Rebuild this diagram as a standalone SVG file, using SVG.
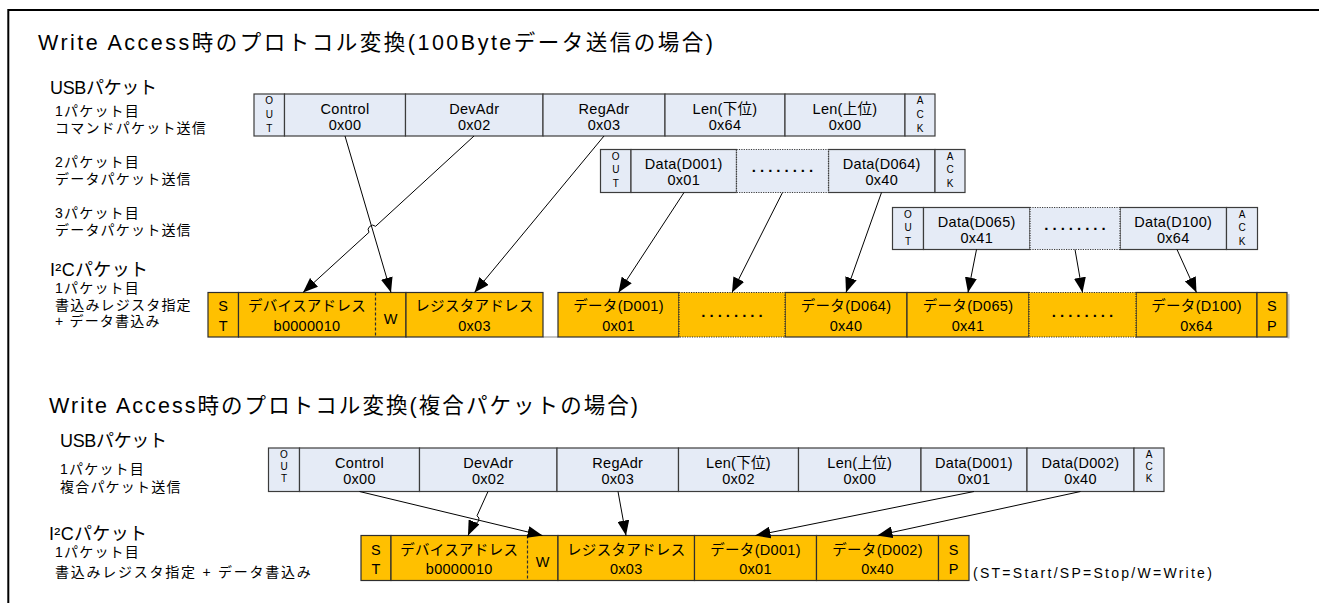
<svg xmlns="http://www.w3.org/2000/svg" width="1319" height="603" viewBox="0 0 1319 603">
<defs>
<marker id="arr" viewBox="0 0 15 12" refX="15" refY="6" markerWidth="15" markerHeight="12" markerUnits="userSpaceOnUse" orient="auto"><path d="M0,0 L15,6 L0,12 z" fill="#000"/></marker>
<style>
text{font-family:"Liberation Sans","Noto Sans CJK JP",sans-serif;fill:#000}
.usb{fill:#E5EBF6;stroke:#3c3c3c;stroke-width:1.2}
.i2c{fill:#FFC000;stroke:#2e2e2e;stroke-width:1.2}
.dot{stroke-dasharray:1.2 1.2}
.dash{stroke:#2e2e2e;stroke-width:1.2;stroke-dasharray:3 2}
.t{font-size:14.5px;text-anchor:middle;letter-spacing:0.3px}
.s{font-size:10px;text-anchor:middle}
.d{font-size:15px;font-weight:bold;text-anchor:middle;letter-spacing:4px}
.ttl{font-size:21.5px}
.hd{font-size:18px}
.lb{font-size:14px;letter-spacing:1.2px}
.conn path{stroke:#000;stroke-width:1;fill:none;marker-end:url(#arr)}
.shadow{stroke:#c4c4c4;stroke-width:2;fill:none}
</style>
</defs>
<rect width="1319" height="603" fill="#fff"/>
<path d="M8.3,603 V10 H1319" fill="none" stroke="#000" stroke-width="2"/>

<g id="labels">
<text class="ttl" x="38" y="50" textLength="675" lengthAdjust="spacing">Write Access時のプロトコル変換(100Byteデータ送信の場合)</text>
<text class="hd" x="50" y="94" textLength="107" lengthAdjust="spacing">USBパケット</text>
<text class="lb" x="55" y="116">1パケット目</text>
<text class="lb" x="55" y="133">コマンドパケット送信</text>
<text class="lb" x="55" y="167">2パケット目</text>
<text class="lb" x="55" y="184">データパケット送信</text>
<text class="lb" x="55" y="218">3パケット目</text>
<text class="lb" x="55" y="235">データパケット送信</text>
<text class="hd" x="50" y="276" textLength="98" lengthAdjust="spacing">I²Cパケット</text>
<text class="lb" x="55" y="293">1パケット目</text>
<text class="lb" x="55" y="310">書込みレジスタ指定</text>
<text class="lb" x="55" y="326">+ データ書込み</text>
<text class="ttl" x="49" y="413" textLength="589" lengthAdjust="spacing">Write Access時のプロトコル変換(複合パケットの場合)</text>
<text class="hd" x="60" y="447" textLength="107" lengthAdjust="spacing">USBパケット</text>
<text class="lb" x="60" y="474">1パケット目</text>
<text class="lb" x="60" y="492">複合パケット送信</text>
<text class="hd" x="49" y="540" textLength="98" lengthAdjust="spacing">I²Cパケット</text>
<text class="lb" x="55" y="557">1パケット目</text>
<text class="lb" x="55" y="577" textLength="257" lengthAdjust="spacing">書込みレジスタ指定 + データ書込み</text>
<text class="lb" x="973" y="578" textLength="240" lengthAdjust="spacing">(ST=Start/SP=Stop/W=Write)</text>
</g>

<!-- Section 1 USB packet 1 -->
<g id="s1-p1-out"><rect class="usb" x="254" y="94" width="30.5" height="42"/><text class="s" x="269.25" y="104">O</text><text class="s" x="269.25" y="117.5">U</text><text class="s" x="269.25" y="131.5">T</text></g>
<g id="s1-p1-control"><rect class="usb" x="284.5" y="94" width="121" height="42"/><text class="t" x="345" y="113.5">Control</text><text class="t" x="345" y="129.5">0x00</text></g>
<g id="s1-p1-devadr"><rect class="usb" x="405.5" y="94" width="137.5" height="42"/><text class="t" x="474.25" y="113.5">DevAdr</text><text class="t" x="474.25" y="129.5">0x02</text></g>
<g id="s1-p1-regadr"><rect class="usb" x="543" y="94" width="122" height="42"/><text class="t" x="604" y="113.5">RegAdr</text><text class="t" x="604" y="129.5">0x03</text></g>
<g id="s1-p1-lenl"><rect class="usb" x="665" y="94" width="120" height="42"/><text class="t" x="725" y="113.5">Len(下位)</text><text class="t" x="725" y="129.5">0x64</text></g>
<g id="s1-p1-lenh"><rect class="usb" x="785" y="94" width="120" height="42"/><text class="t" x="845" y="113.5">Len(上位)</text><text class="t" x="845" y="129.5">0x00</text></g>
<g id="s1-p1-ack"><rect class="usb" x="905" y="94" width="30" height="42"/><text class="s" x="920" y="104">A</text><text class="s" x="920" y="117.5">C</text><text class="s" x="920" y="131.5">K</text></g>

<!-- Section 1 USB packet 2 -->
<g id="s1-p2-out"><rect class="usb" x="600.5" y="149.5" width="30.5" height="43"/><text class="s" x="615.75" y="159.5">O</text><text class="s" x="615.75" y="173">U</text><text class="s" x="615.75" y="187">T</text></g>
<g id="s1-p2-d001"><rect class="usb" x="631" y="149.5" width="105.5" height="43"/><text class="t" x="683.75" y="169">Data(D001)</text><text class="t" x="683.75" y="185">0x01</text></g>
<g id="s1-p2-d064"><rect class="usb" x="828.5" y="149.5" width="106.5" height="43"/><text class="t" x="881.75" y="169">Data(D064)</text><text class="t" x="881.75" y="185">0x40</text></g>
<g id="s1-p2-dots"><rect class="usb dot" x="736.5" y="149.5" width="92" height="43"/><text class="d" x="784.5" y="172">........</text></g>
<g id="s1-p2-ack"><rect class="usb" x="935" y="149.5" width="30" height="43"/><text class="s" x="950" y="159.5">A</text><text class="s" x="950" y="173">C</text><text class="s" x="950" y="187">K</text></g>

<!-- Section 1 USB packet 3 -->
<g id="s1-p3-out"><rect class="usb" x="892.5" y="207.5" width="31" height="42"/><text class="s" x="908" y="217.5">O</text><text class="s" x="908" y="231">U</text><text class="s" x="908" y="245">T</text></g>
<g id="s1-p3-d065"><rect class="usb" x="923.5" y="207.5" width="106.5" height="42"/><text class="t" x="976.75" y="227">Data(D065)</text><text class="t" x="976.75" y="243">0x41</text></g>
<g id="s1-p3-d100"><rect class="usb" x="1120" y="207.5" width="106.5" height="42"/><text class="t" x="1173.25" y="227">Data(D100)</text><text class="t" x="1173.25" y="243">0x64</text></g>
<g id="s1-p3-dots"><rect class="usb dot" x="1030" y="207.5" width="90" height="42"/><text class="d" x="1077" y="230">........</text></g>
<g id="s1-p3-ack"><rect class="usb" x="1226.5" y="207.5" width="31" height="42"/><text class="s" x="1242" y="217.5">A</text><text class="s" x="1242" y="231">C</text><text class="s" x="1242" y="245">K</text></g>

<!-- Section 1 I2C packet -->
<path class="shadow" d="M543,337 H558 M1288.5,294 V338.5"/>
<g id="s1-i2c-st"><rect class="i2c" x="208" y="292.5" width="30.5" height="44.5"/><text class="t" x="223.25" y="311">S</text><text class="t" x="223.25" y="330.5">T</text></g>
<g id="s1-i2c-dev"><rect class="i2c" x="238.5" y="292.5" width="167.5" height="44.5"/><line class="dash" x1="375.5" y1="292.5" x2="375.5" y2="337"/><text class="t" x="307" y="311">デバイスアドレス</text><text class="t" x="307" y="330.5">b0000010</text><text class="t" x="390.75" y="323.5">W</text></g>
<g id="s1-i2c-reg"><rect class="i2c" x="406" y="292.5" width="137" height="44.5"/><text class="t" x="474.5" y="311">レジスタアドレス</text><text class="t" x="474.5" y="330.5">0x03</text></g>
<g id="s1-i2c-d001"><rect class="i2c" x="558" y="292.5" width="121" height="44.5"/><text class="t" x="618.5" y="311">データ(D001)</text><text class="t" x="618.5" y="330.5">0x01</text></g>
<g id="s1-i2c-d064"><rect class="i2c" x="785" y="292.5" width="122" height="44.5"/><text class="t" x="846" y="311">データ(D064)</text><text class="t" x="846" y="330.5">0x40</text></g>
<g id="s1-i2c-d065"><rect class="i2c" x="907" y="292.5" width="122" height="44.5"/><text class="t" x="968" y="311">データ(D065)</text><text class="t" x="968" y="330.5">0x41</text></g>
<g id="s1-i2c-d100"><rect class="i2c" x="1136" y="292.5" width="121" height="44.5"/><text class="t" x="1196.5" y="311">データ(D100)</text><text class="t" x="1196.5" y="330.5">0x64</text></g>
<g id="s1-i2c-dots1"><rect class="i2c dot" x="679" y="292.5" width="106" height="44.5"/><text class="d" x="734" y="316.5">........</text></g>
<g id="s1-i2c-dots2"><rect class="i2c dot" x="1029" y="292.5" width="107" height="44.5"/><text class="d" x="1084.5" y="316.5">........</text></g>
<g id="s1-i2c-sp"><rect class="i2c" x="1257" y="292.5" width="30" height="44.5"/><text class="t" x="1272" y="311">S</text><text class="t" x="1272" y="330.5">P</text></g>

<!-- Section 2 USB packet -->
<g id="s2-usb-out"><rect class="usb" x="268.5" y="448" width="31" height="43.5"/><text class="s" x="284" y="458">O</text><text class="s" x="284" y="470">U</text><text class="s" x="284" y="482">T</text></g>
<g id="s2-usb-control"><rect class="usb" x="299.5" y="448" width="120" height="43.5"/><text class="t" x="359.5" y="467.5">Control</text><text class="t" x="359.5" y="483.5">0x00</text></g>
<g id="s2-usb-devadr"><rect class="usb" x="419.5" y="448" width="137.5" height="43.5"/><text class="t" x="488.25" y="467.5">DevAdr</text><text class="t" x="488.25" y="483.5">0x02</text></g>
<g id="s2-usb-regadr"><rect class="usb" x="557" y="448" width="121.5" height="43.5"/><text class="t" x="617.75" y="467.5">RegAdr</text><text class="t" x="617.75" y="483.5">0x03</text></g>
<g id="s2-usb-lenl"><rect class="usb" x="678.5" y="448" width="120" height="43.5"/><text class="t" x="738.5" y="467.5">Len(下位)</text><text class="t" x="738.5" y="483.5">0x02</text></g>
<g id="s2-usb-lenh"><rect class="usb" x="798.5" y="448" width="122.5" height="43.5"/><text class="t" x="859.75" y="467.5">Len(上位)</text><text class="t" x="859.75" y="483.5">0x00</text></g>
<g id="s2-usb-d001"><rect class="usb" x="921" y="448" width="106" height="43.5"/><text class="t" x="974" y="467.5">Data(D001)</text><text class="t" x="974" y="483.5">0x01</text></g>
<g id="s2-usb-d002"><rect class="usb" x="1027" y="448" width="107" height="43.5"/><text class="t" x="1080.5" y="467.5">Data(D002)</text><text class="t" x="1080.5" y="483.5">0x40</text></g>
<g id="s2-usb-ack"><rect class="usb" x="1134" y="448" width="30" height="43.5"/><text class="s" x="1149" y="458">A</text><text class="s" x="1149" y="470">C</text><text class="s" x="1149" y="482">K</text></g>

<!-- Section 2 I2C packet -->
<g id="s2-i2c-st"><rect class="i2c" x="361" y="535.5" width="30" height="45"/><text class="t" x="376" y="554.5">S</text><text class="t" x="376" y="574">T</text></g>
<g id="s2-i2c-dev"><rect class="i2c" x="391" y="535.5" width="167" height="45"/><line class="dash" x1="527.5" y1="535.5" x2="527.5" y2="580.5"/><text class="t" x="459.25" y="554.5">デバイスアドレス</text><text class="t" x="459.25" y="574">b0000010</text><text class="t" x="542.75" y="567">W</text></g>
<g id="s2-i2c-reg"><rect class="i2c" x="558" y="535.5" width="136.5" height="45"/><text class="t" x="626.25" y="554.5">レジスタアドレス</text><text class="t" x="626.25" y="574">0x03</text></g>
<g id="s2-i2c-d001"><rect class="i2c" x="694.5" y="535.5" width="122" height="45"/><text class="t" x="755.5" y="554.5">データ(D001)</text><text class="t" x="755.5" y="574">0x01</text></g>
<g id="s2-i2c-d002"><rect class="i2c" x="816.5" y="535.5" width="122" height="45"/><text class="t" x="877.5" y="554.5">データ(D002)</text><text class="t" x="877.5" y="574">0x40</text></g>
<g id="s2-i2c-sp"><rect class="i2c" x="938.5" y="535.5" width="30.5" height="45"/><text class="t" x="953.75" y="554.5">S</text><text class="t" x="953.75" y="574">P</text></g>

<g id="connectors" class="conn">
<path d="M345,136 L391,292.5"/>
<path d="M474,136 L375.6,226.3 A4.5,4.5 0 0 0 369,232.3 L303,292.5"/>
<path d="M604,136 L474.5,292.5"/>
<path d="M684,192.5 L618.5,292.5"/>
<path d="M782.5,192.5 L732,292.5"/>
<path d="M881.5,192.5 L846,292.5"/>
<path d="M976.5,249.5 L968,292.5"/>
<path d="M1075,249.5 L1082.5,292.5"/>
<path d="M1177,249.5 L1196.5,292.5"/>
<path d="M359.5,491.5 L542.5,535.5"/>
<path d="M488,491.5 L477,515.8 A4,4 0 0 1 473.6,523 L468,535.5"/>
<path d="M618,491.5 L626,535.5"/>
<path d="M974,491.5 L755.5,535.5"/>
<path d="M1080.5,491.5 L877.5,535.5"/>
</g>
</svg>
